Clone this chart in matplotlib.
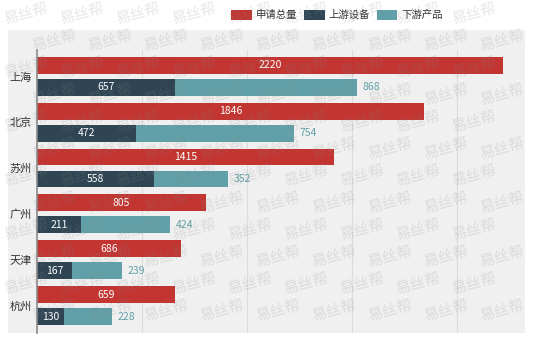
import matplotlib
matplotlib.use("Agg")
import matplotlib.pyplot as plt
from matplotlib.patches import Patch, Rectangle
import numpy as np

plt.rcParams['font.family'] = ['Noto Sans CJK SC', 'DejaVu Sans']

# data
cities = ["上海", "北京", "苏州", "广州", "天津", "杭州"]
total = [2220, 1846, 1415, 805, 686, 659]
upstream = [657, 472, 558, 211, 167, 130]
downstream = [868, 754, 352, 424, 239, 228]
series_names = ["申请总量", "上游设备", "下游产品"]
colors = ["#c23531", "#2f4554", "#61a0a8"]

W, H = 554, 343
fig = plt.figure(figsize=(W / 100, H / 100), dpi=100)

# light gray panel behind the plot
fig.patches.append(Rectangle((8 / W, 10 / H), (525 - 8) / W, (333 - 30) / H,
                             transform=fig.transFigure, facecolor="#f0f0f0",
                             edgecolor="none", zorder=-5))

ax = fig.add_axes([37 / W, 10 / H, (525 - 37) / W, (333 - 50) / H])
ax.set_facecolor("none")
ax.set_zorder(1)

y = np.arange(len(cities))
off, h = 0.24, 0.37

ax.barh(y - off, total, height=h, color=colors[0], zorder=2)
ax.barh(y + off, upstream, height=h, color=colors[1], zorder=2)
ax.barh(y + off, downstream, height=h, left=upstream, color=colors[2], zorder=2)

for i in range(len(cities)):
    ax.text(total[i] / 2, y[i] - off, str(total[i]), color="white",
            ha="center", va="center", fontsize=7.5, zorder=3)
    ax.text(upstream[i] / 2, y[i] + off, str(upstream[i]), color="white",
            ha="center", va="center", fontsize=7.5, zorder=3)
    ax.text(upstream[i] + downstream[i] + 25, y[i] + off, str(downstream[i]),
            color=colors[2], ha="left", va="center", fontsize=7.5, zorder=3)

ax.set_xlim(0, 2325)
ax.set_ylim(5.6, -0.575)
ax.set_yticks(y)
ax.set_yticklabels(cities, fontsize=8, color="#333333")
ax.tick_params(axis="y", length=0, pad=4)
ax.set_xticks([500, 1000, 1500, 2000])
ax.tick_params(axis="x", length=0, labelbottom=False)
ax.grid(axis="x", color="#dcdcdc", lw=0.8, zorder=1)
for s in ["top", "right", "bottom"]:
    ax.spines[s].set_visible(False)
ax.spines["left"].set_color("#8a8a8a")
ax.spines["left"].set_linewidth(1.2)

handles = [Patch(facecolor=c, edgecolor="none") for c in colors]
fig.legend(handles, series_names, loc="center", bbox_to_anchor=(337 / W, 1 - 15 / H),
           ncol=3, frameon=False, fontsize=7.5, handlelength=2.0, handleheight=1.1,
           handletextpad=0.4, columnspacing=0.6, labelcolor="#333333")

# watermark tiling (kept inside the figure)
for r, yy in enumerate(np.arange(14, H - 8, 27)):
    shift = (r % 2) * 28
    for xx in np.arange(26 + shift, W - 24, 56):
        fig.text(xx / W, 1 - yy / H, "易丝帮", fontsize=11, color="#888888",
                 alpha=0.2, rotation=15, ha="center", va="center", zorder=10)

fig.savefig("out.png", dpi=100)
